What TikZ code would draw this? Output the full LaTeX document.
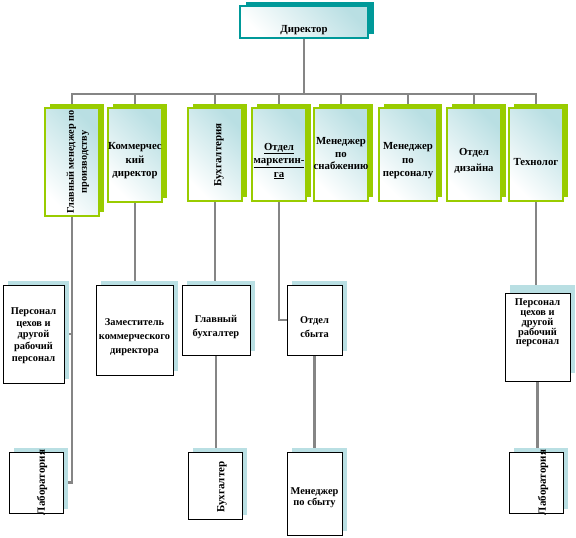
\documentclass[tikz,border=0pt]{standalone}
\usepackage{fontspec}
\setmainfont{Liberation Serif}
\usetikzlibrary{shadows,backgrounds,calc}
\definecolor{grn}{HTML}{99CC00}
\definecolor{tl}{HTML}{009999}
\definecolor{lb}{HTML}{B9DFE3}
\definecolor{ln}{HTML}{858585}
\begin{document}
\begin{tikzpicture}[x=1pt,y=-1pt,
  boxbase/.style={inner sep=0pt, minimum width=54pt},
  topbox/.style={boxbase, draw=grn, line width=1.1pt, top color=lb, bottom color=white, shading angle=-45,
     general shadow={fill=grn, shadow xshift=5pt, shadow yshift=4pt}},
  dirbox/.style={boxbase, draw=tl, line width=1.1pt, top color=lb, bottom color=white, shading angle=-45,
     general shadow={fill=tl, shadow xshift=6pt, shadow yshift=4pt}},
  lowbox/.style={boxbase, draw=black, line width=0.9pt, fill=white,
     general shadow={fill=lb, shadow xshift=5pt, shadow yshift=#1}},
  lowbox/.default=4pt,
  txt/.style={inner sep=0pt, align=center, font=\fontsize{10.8}{13.5}\selectfont\bfseries},
  txtr/.style={inner sep=0pt, align=center, rotate=90, font=\fontsize{11}{13}\selectfont\bfseries},
  txts/.style={inner sep=0pt, align=center, font=\fontsize{10.4}{11.7}\selectfont\bfseries},
  conn/.style={draw=ln, line width=2.6pt}
]
\useasboundingbox (0,0) rectangle (576,538);

% director
\node[dirbox, minimum width=128pt, minimum height=32pt] (D) at (304,22) {};
\node[txt] (tD) at (304,30) {Директор};

% top row
\node[topbox, minimum height=108pt] (B1) at (72,162) {};
\node[topbox, minimum height=94pt] (B2) at (135,155) {};
\node[topbox, minimum height=93pt] (B3) at (215,154.5) {};
\node[topbox, minimum height=93pt] (B4) at (279,154.5) {};
\node[topbox, minimum height=93pt] (B5) at (341,154.5) {};
\node[topbox, minimum height=93pt, minimum width=58pt] (B6) at (408,154.5) {};
\node[topbox, minimum height=93pt] (B7) at (474,154.5) {};
\node[topbox, minimum height=93pt] (B8) at (536,154.5) {};

\node[txtr, font=\fontsize{10.3}{13}\selectfont\bfseries] (tB1) at (78,162) {Главный менеджер по\\производству};
\node[txt] (tB2) at (135,161) {Коммерчес\\кий\\директор};
\node[txtr] (tB3) at (219,155) {Бухгалтерия};
\node[txt] (tB4) at (279,161) {\underline{Отдел}\\\underline{маркетин-}\\\underline{га}};
\node[txt, font=\fontsize{10.8}{12.5}\selectfont\bfseries] (tB5) at (341,154) {Менеджер\\по\\снабжению};
\node[txt] (tB6) at (408,161) {Менеджер\\по\\персоналу};
\node[txt, font=\fontsize{10.8}{16}\selectfont\bfseries] (tB7) at (474,161) {Отдел\\дизайна};
\node[txt] (tB8) at (536,162) {Технолог};

% middle row
\node[lowbox, minimum width=61pt, minimum height=98pt] (L1) at (33.5,334) {};
\node[lowbox, minimum width=77pt, minimum height=90pt] (L2) at (134.5,330) {};
\node[lowbox, minimum width=68pt, minimum height=70pt] (L3) at (216,320) {};
\node[lowbox, minimum width=55pt, minimum height=70pt] (L4) at (314.5,320) {};
\node[lowbox=8pt, minimum width=65pt, minimum height=88pt] (L5) at (537.5,337) {};

\node[txts] (tL1) at (33.5,335.5) {Персонал\\цехов и\\другой\\рабочий\\персонал};
\node[txts, font=\fontsize{10.4}{14}\selectfont\bfseries] (tL2) at (134.5,337) {Заместитель\\коммерческого\\директора};
\node[txts, font=\fontsize{10.4}{14}\selectfont\bfseries] (tL3) at (216,327) {Главный\\бухгалтер};
\node[txts, font=\fontsize{10.4}{14}\selectfont\bfseries] (tL4) at (314.5,327) {Отдел\\сбыта};
\node[txts, font=\fontsize{10.4}{9.8}\selectfont\bfseries] (tL5) at (537.5,323) {Персонал\\цехов и\\другой\\рабочий\\персонал};

% bottom row
\node[lowbox, minimum height=61pt] (M1) at (36,482.5) {};
\node[lowbox, minimum height=67pt] (M2) at (215,485.5) {};
\node[lowbox, minimum width=55pt, minimum height=83pt] (M3) at (314.5,493.5) {};
\node[lowbox, minimum height=61pt] (M4) at (536,482.5) {};

\node[txtr] (tM1) at (42,482.5) {Лаборатория};
\node[txtr] (tM2) at (222,487) {Бухгалтер};
\node[txts, font=\fontsize{10.4}{11}\selectfont\bfseries] (tM3) at (314.5,497.5) {Менеджер\\по сбыту};
\node[txtr] (tM4) at (543,482.5) {Лаборатория};

\coordinate (bus) at (304,94);
\begin{pgfonlayer}{background}
\draw[conn] (D.south) -- (bus);
\foreach \n in {B1,B2,B3,B4,B5,B6,B7,B8}{\draw[conn] (\n.north) |- (bus);}
\draw[conn] (B1.south) |- (M1.east);
\draw[conn] (B1.south |- L1.east) -- (L1.east);
\draw[conn] (B2.south) -- (B2.south |- L2.north);
\draw[conn] (B3.south) -- (B3.south |- L3.north);
\draw[conn] (L3.south) -- (L3.south |- M2.north);
\draw[conn] (B4.south) |- (L4.west);
\draw[conn] (L4.south) -- (L4.south |- M3.north);
\draw[conn] (B8.south) -- (B8.south |- L5.north);
\draw[conn] (L5.south) -- (L5.south |- M4.north);
\end{pgfonlayer}
\end{tikzpicture}
\end{document}
